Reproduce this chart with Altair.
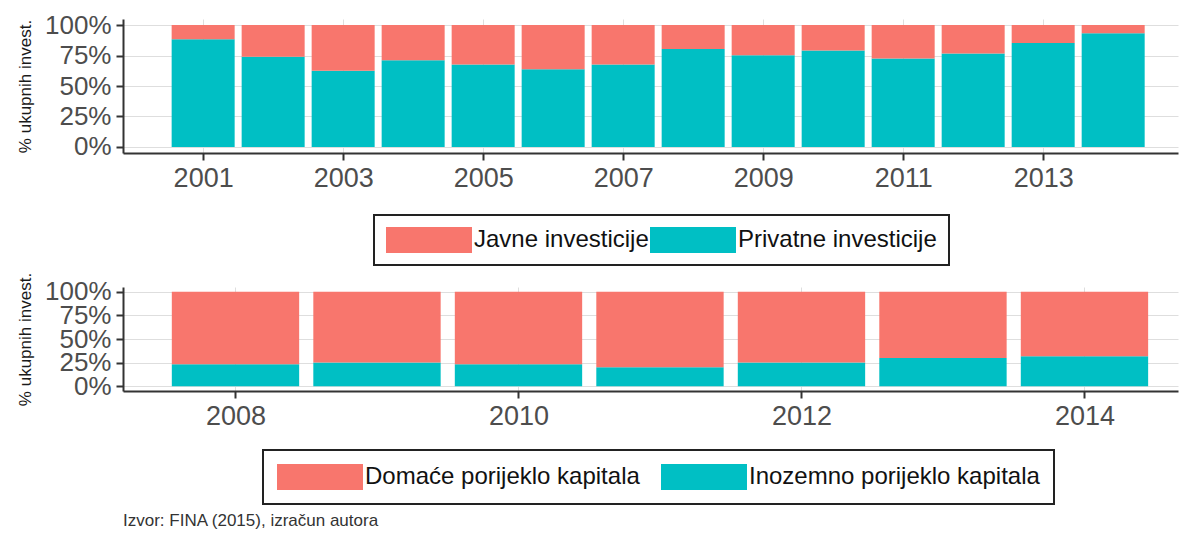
import altair as alt
import pandas as pd

# ---- data ----
years_top = [2001, 2002, 2003, 2004, 2005, 2006, 2007, 2008, 2009, 2010, 2011, 2012, 2013, 2014]
private_share = [0.883, 0.740, 0.625, 0.712, 0.677, 0.638, 0.677, 0.803, 0.753, 0.792, 0.726, 0.767, 0.852, 0.932]
top_categories = ["Javne investicije", "Privatne investicije"]
top_ticks = [2001, 2003, 2005, 2007, 2009, 2011, 2013]

years_bottom = [2008, 2009, 2010, 2011, 2012, 2013, 2014]
foreign_share = [0.233, 0.251, 0.233, 0.201, 0.251, 0.300, 0.318]
bottom_categories = ["Domaće porijeklo kapitala", "Inozemno porijeklo kapitala"]
bottom_ticks = [2008, 2010, 2012, 2014]

y_ticks = [0, 0.25, 0.5, 0.75, 1.0]
y_title = "% ukupnih invest."
source_note = "Izvor: FINA (2015), izračun autora"

RED = "#F8766D"
TEAL = "#00BFC4"
FONT = "Liberation Sans"


def long_frame(years, share, cats):
    rows = []
    for yr, p in zip(years, share):
        rows.append({"year": yr, "cat": cats[1], "lo": 0.0, "hi": p})
        rows.append({"year": yr, "cat": cats[0], "lo": p, "hi": 1.0})
    return pd.DataFrame(rows)


top_df = long_frame(years_top, private_share, top_categories)
bottom_df = long_frame(years_bottom, foreign_share, bottom_categories)

SYMBOL = "M-1,-1H5.615V1H-1Z"


def panel(df, cats, x_domain, ticks, height, lx, ly, colpad, pad):
    legend = alt.Legend(
        orient="none", legendX=lx, legendY=ly, direction="horizontal", title=None,
        symbolType=SYMBOL, symbolSize=676, symbolStrokeWidth=0, symbolOpacity=1,
        labelOffset=62, labelFontSize=24, labelFont=FONT, labelColor="#111111",
        labelLimit=600, columnPadding=colpad, padding=pad,
        strokeColor="#222222",
    )
    return (
        alt.Chart(df)
        .transform_calculate(x0="datum.year - 0.45", x1="datum.year + 0.45")
        .mark_bar()
        .encode(
            x=alt.X("x0:Q", scale=alt.Scale(domain=x_domain, nice=False, zero=False),
                    axis=alt.Axis(values=ticks, format="d", title=None, labelFontSize=27,
                                  labelPadding=5)),
            x2="x1:Q",
            y=alt.Y("lo:Q", scale=alt.Scale(domain=[-0.05, 1.05], nice=False, zero=False),
                    axis=alt.Axis(values=y_ticks, format=".0%", title=y_title,
                                  labelFontSize=26, labelOverlap=False, labelPadding=5,
                                  titlePadding=10)),
            y2="hi:Q",
            color=alt.Color("cat:N", scale=alt.Scale(domain=cats, range=[RED, TEAL]),
                            legend=legend),
        )
        .properties(width=1055, height=height)
    )


top = panel(top_df, top_categories, [1999.855, 2014.926], top_ticks, 134, 251, 196, 1, 12)
bottom = panel(bottom_df, bottom_categories, [2007.205, 2014.661], bottom_ticks, 104, 140, 163, 21, 14)
bottom = bottom.properties(
    title=alt.TitleParams(source_note, orient="bottom", anchor="start", frame="group",
                          fontSize=17, fontWeight="normal", font=FONT, color="#333333",
                          offset=8)
)

chart = (
    alt.vconcat(top, bottom, spacing=134, bounds="flush")
    .resolve_scale(color="independent", x="independent", y="independent")
    .resolve_legend(color="independent")
    .properties(padding={"left": 8, "top": 4, "right": 4, "bottom": 0})
    .configure_view(stroke=None)
    .configure_axis(
        domainColor="#333333", domainWidth=2, tickColor="#333333", tickWidth=2, tickSize=7,
        gridColor="#DEDEDE", gridWidth=1, labelFont=FONT, labelColor="#4D4D4D",
        titleFont=FONT, titleFontSize=17, titleFontWeight="normal", titleColor="#1A1A1A",
    )
    .configure_legend(strokeWidth=2)
)

chart.save("out.html", embed_options={"renderer": "svg", "actions": False})
